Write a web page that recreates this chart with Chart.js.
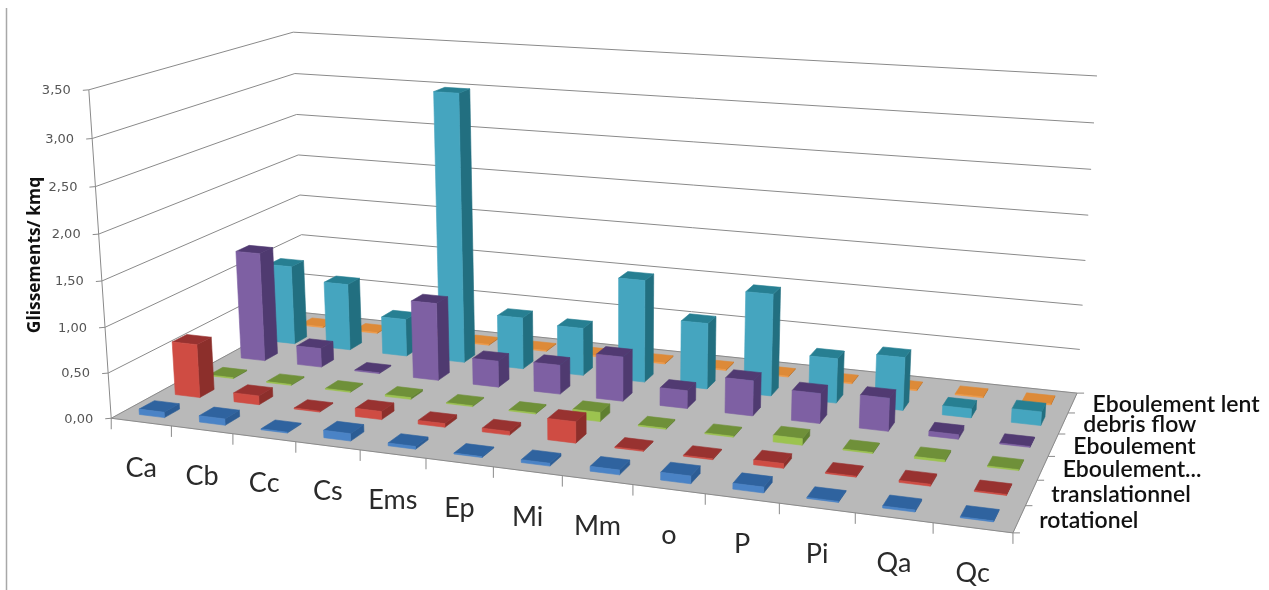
<!DOCTYPE html>
<html><head><meta charset="utf-8">
<style>html,body{margin:0;padding:0;background:#fff}#w{width:1269px;height:590px}</style>
<script src="https://cdn.jsdelivr.net/npm/chart.js@4"></script></head>
<body><div id="w"><canvas id="c" width="1269" height="590"></canvas></div>
<script>
const categories=['Ca','Cb','Cc','Cs','Ems','Ep','Mi','Mm','o','P','Pi','Qa','Qc'];
const seriesNames=['rotationel','translationnel','Eboulement...','Eboulement','debris flow','Eboulement lent'];
const rotationel    =[0.06,0.07,0.01,0.08,0.03,0.01,0.03,0.05,0.08,0.06,0.01,0.02,0.01];
const translationnel=[0.60,0.10,0.01,0.09,0.04,0.04,0.23,0.01,0.01,0.05,0.01,0.02,0.01];
const eboulementDots=[0.01,0.01,0.01,0.02,0.01,0.01,0.10,0.01,0.01,0.07,0.01,0.02,0.01];
const eboulement    =[1.27,0.22,0.01,0.89,0.30,0.33,0.50,0.20,0.39,0.33,0.36,0.05,0.01];
const debrisFlow    =[0.94,0.79,0.44,3.12,0.60,0.55,1.17,0.75,1.15,0.50,0.59,0.10,0.15];
const eboulementLent=[0.01,0.01,0.01,0.01,0.01,0.01,0.01,0.01,0.01,0.01,0.01,0.01,0.01];
const seriesValues=[rotationel,translationnel,eboulementDots,eboulement,debrisFlow,eboulementLent];
const faceColors=[
 {front:'#4a83c6',side:'#2c5c94',top:'#2f639f'},
 {front:'#cf4c43',side:'#8c2f2b',top:'#983230'},
 {front:'#9cc34f',side:'#5f7f31',top:'#6f9039'},
 {front:'#7e60a3',side:'#4f3a70',top:'#513a72'},
 {front:'#45a5bf',side:'#226f80',top:'#277f92'},
 {front:'#f09a48',side:'#b96d22',top:'#dd8a38'}];
const yTitle='Glissements/ kmq';

// perspective camera fitted to the box corners of the plot: [u,v,w, px,py]
const frameFit=[[0,0,0,111,418],[1,0,0,1013,533],[0,0,1,305,313],[1,0,1,1077,393],
 [0,1,0,89,90],[0,1,1,293,32],[1,1,1,1097,76]];
function solve(A,b){const n=b.length;const M=A.map((r,i)=>[...r,b[i]]);
 for(let i=0;i<n;i++){let p=i;for(let k=i+1;k<n;k++)if(Math.abs(M[k][i])>Math.abs(M[p][i]))p=k;
  [M[i],M[p]]=[M[p],M[i]];
  for(let k=0;k<n;k++){if(k===i)continue;const f=M[k][i]/M[i][i];for(let j=i;j<=n;j++)M[k][j]-=f*M[i][j];}}
 return M.map((r,i)=>r[n]/r[i]);}
const cam=(()=>{const rows=[],rhs=[];
 for(const [u,v,w,x,y] of frameFit){
  rows.push([u,v,w,1,0,0,0,0,-x*u,-x*v,-x*w]);rhs.push(x);
  rows.push([0,0,0,0,u,v,w,1,-y*u,-y*v,-y*w]);rhs.push(y);}
 const n=11,A=[...Array(n)].map(()=>Array(n).fill(0)),b=Array(n).fill(0);
 rows.forEach((r,k)=>{for(let i=0;i<n;i++){b[i]+=r[i]*rhs[k];for(let j=0;j<n;j++)A[i][j]+=r[i]*r[j];}});
 return solve(A,b);})();
function proj(u,v,w){const d=cam[8]*u+cam[9]*v+cam[10]*w+1;
 return [(cam[0]*u+cam[1]*v+cam[2]*w+cam[3])/d,(cam[4]*u+cam[5]*v+cam[6]*w+cam[7])/d];}
function uOf(s,px){return (px-s.left)/s.width;}
function vOf(s,px){return (s.bottom-px)/s.height;}
function poly(ctx,pts,fill){ctx.beginPath();pts.forEach((p,i)=>i?ctx.lineTo(p[0],p[1]):ctx.moveTo(p[0],p[1]));ctx.closePath();
 ctx.fillStyle=fill;ctx.strokeStyle=fill;ctx.lineWidth=0.6;ctx.fill();ctx.stroke();}

class Bar3DController extends Chart.BarController{
 draw(){
  const ch=this.chart,ctx=ch.ctx,sx=ch.scales.x,sy=ch.scales.y,sd=ch.scales.depth;
  const ds=this.getDataset(),c=ds.faces;
  const w=uOf(sd,sd.getPixelForValue(seriesNames.indexOf(ds.label)));
  const n=this.getMeta().data.length;
  const hu=0.5*ds.barFrac/categories.length,hw=0.5*ds.depthFrac/seriesNames.length;
  for(let i=0;i<n;i++){
   const p=this.getParsed(i);
   const u=uOf(sx,sx.getPixelForValue(p.x)),v=vOf(sy,sy.getPixelForValue(p.y));
   const a=[u-hu,w-hw],b=[u+hu,w-hw],e=[u+hu,w+hw],f=[u-hu,w+hw];
   const P=(q,h)=>proj(q[0],h,q[1]);
   poly(ctx,[P(b,0),P(e,0),P(e,v),P(b,v)],c.side);
   poly(ctx,[P(a,v),P(b,v),P(e,v),P(f,v)],c.top);
   poly(ctx,[P(a,0),P(b,0),P(b,v),P(a,v)],c.front);
  }
 }
}
Bar3DController.id='bar3d';
Bar3DController.defaults=Chart.BarController.defaults;
Bar3DController.overrides=Chart.BarController.overrides;
Chart.register(Bar3DController);

const frame3d={id:'frame3d',
 beforeDatasetsDraw(ch){
  const ctx=ch.ctx,sy=ch.scales.y,sx=ch.scales.x,sd=ch.scales.depth;
  ctx.save();
  ctx.strokeStyle='#a8a8a8';ctx.lineWidth=1.5;ctx.beginPath();ctx.moveTo(6.5,8);ctx.lineTo(6.5,590);ctx.stroke();
  poly(ctx,[proj(0,0,0),proj(1,0,0),proj(1,0,1),proj(0,0,1)],'#b9b9b9');
  ctx.strokeStyle='#8a8a8a';ctx.lineWidth=1;
  const line=(a,b)=>{ctx.beginPath();ctx.moveTo(a[0],a[1]);ctx.lineTo(b[0],b[1]);ctx.stroke();};
  sy.ticks.forEach(t=>{
   const v=vOf(sy,sy.getPixelForValue(t.value));
   const a=proj(0,v,0),b=proj(0,v,1),c=proj(1,v,1);
   line(a,b);line(b,c);line([a[0]-6,a[1]+0.5],a);
   ctx.fillStyle='#555';ctx.font='13px "DejaVu Sans"';ctx.textAlign='right';ctx.textBaseline='middle';
   ctx.fillText(t.label,a[0]-18,a[1]+1);
  });
  line(proj(0,0,0),proj(0,1,0));
  for(let i=0;i<=categories.length;i++){const a=proj(i/categories.length,0,0);line(a,[a[0],a[1]+11]);}
  for(let j=0;j<=seriesNames.length;j++){const a=proj(1,0,j/seriesNames.length);line(a,[a[0]+7,a[1]]);}
  line(proj(0,0,0),proj(1,0,0));line(proj(1,0,0),proj(1,0,1));
  ctx.restore();
 },
 afterDatasetsDraw(ch){
  const ctx=ch.ctx,sx=ch.scales.x,sd=ch.scales.depth;
  ctx.save();ctx.textBaseline='middle';
  ctx.fillStyle='#2a2a2a';ctx.font='27px Lato';ctx.textAlign='center';
  categories.forEach((l,i)=>{const a=proj(uOf(sx,sx.getPixelForValue(i)),0,0);ctx.fillText(l,a[0],a[1]+46);});
  ctx.fillStyle='#111';ctx.font='600 23px Lato';ctx.textAlign='left';
  seriesNames.forEach((l,j)=>{const a=proj(1,0,uOf(sd,sd.getPixelForValue(j)));ctx.fillText(l,a[0]+20,a[1]+1.5);});
  ctx.translate(35,255);ctx.rotate(-Math.PI/2);ctx.textAlign='center';ctx.font='bold 17.4px "Open Sans"';ctx.fillStyle='#111';
  ctx.fillText(yTitle,0,0);
  ctx.restore();
 }};

new Chart(document.getElementById('c'),{
 type:'bar3d',
 data:{labels:categories,datasets:seriesNames.map((s,i)=>({label:s,data:seriesValues[i],faces:faceColors[i],barFrac:0.42,depthFrac:0.42,backgroundColor:faceColors[i].front}))},
 options:{responsive:false,animation:false,events:[],
  layout:{padding:0},
  plugins:{legend:{display:false},tooltip:{enabled:false},title:{display:false}},
  scales:{
   x:{type:'category',offset:true,display:false},
   y:{type:'linear',min:0,max:3.5,display:false,ticks:{stepSize:0.5,callback:v=>v.toFixed(2).replace('.',',')}},
   depth:{type:'category',axis:'x',labels:seriesNames,offset:true,display:false}
  }},
 plugins:[frame3d]
});
</script></body></html>
